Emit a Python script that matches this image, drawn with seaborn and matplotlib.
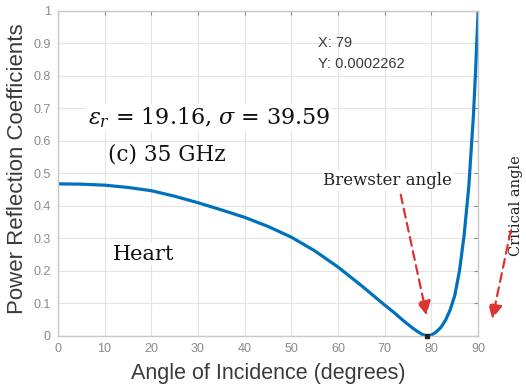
import matplotlib
matplotlib.use("Agg")
import matplotlib.pyplot as plt
import seaborn as sns
import pandas as pd

# Data
angles = [0, 5, 10, 15, 20, 25, 30, 35, 40, 45, 50, 55, 60, 65, 70, 72, 74, 76,
          77, 78, 79, 80, 81, 82, 83, 84, 85, 86, 87, 88, 89, 89.5, 90]
reflection = [0.468, 0.467, 0.464, 0.457, 0.447, 0.430, 0.410, 0.388, 0.365, 0.337,
              0.304, 0.262, 0.212, 0.155, 0.095, 0.072, 0.047, 0.024, 0.014, 0.005,
              0.0002, 0.003, 0.012, 0.026, 0.048, 0.080, 0.125, 0.200, 0.310, 0.460,
              0.680, 0.830, 1.0]
x_ticks = [0, 10, 20, 30, 40, 50, 60, 70, 80, 90]
y_ticks = [0, 0.1, 0.2, 0.3, 0.4, 0.5, 0.6, 0.7, 0.8, 0.9, 1]
y_tick_labels = ["0", "0.1", "0.2", "0.3", "0.4", "0.5", "0.6", "0.7", "0.8", "0.9", "1"]
tip_x = 79
tip_y = 0.0002262

sns.set_theme(style="whitegrid")
plt.rcParams["font.family"] = ["Liberation Sans", "DejaVu Sans"]
plt.rcParams["mathtext.fontset"] = "dejavuserif"

df = pd.DataFrame({"angle": angles, "R": reflection})

fig = plt.figure(figsize=(5.26, 3.90), dpi=100)
ax = fig.add_axes([0.110, 0.1385, 0.799, 0.8335])

sns.lineplot(data=df, x="angle", y="R", ax=ax, color="#0072BD", linewidth=2.3)
ax.plot([tip_x], [tip_y], marker="s", markersize=3.5, color="#222222",
        markeredgecolor="#222222", zorder=5, clip_on=False)

ax.set_xlim(0, 90)
ax.set_ylim(0, 1)
ax.set_xticks(x_ticks)
ax.set_yticks(y_ticks)
ax.set_yticklabels(y_tick_labels)
ax.tick_params(axis="both", which="both", direction="in", length=3, width=0.8,
               colors="#8a8a8a", labelsize=9, top=True, right=True, pad=5,
               labelcolor="#8a8a8a")
ax.grid(True, color="#e4e4e4", linewidth=0.8)
for s in ax.spines.values():
    s.set_color("#c8c8c8")
    s.set_linewidth(1.0)
    s.set_visible(True)

ax.set_xlabel("Angle of Incidence (degrees)", fontsize=15.5, color="#3a3a3a", labelpad=6)
ax.set_ylabel("Power Reflection Coefficients", fontsize=16, color="#3a3a3a")
ax.yaxis.set_label_coords(-0.072, 0.515)

serif = ["DejaVu Serif"]
wbox = dict(facecolor="white", edgecolor="none", pad=1.0)
ax.text(6.4, 0.671, r"$\varepsilon_r$ = 19.16, $\sigma$ = 39.59", fontsize=16,
        family=serif, color="#111111", va="center", ha="left", bbox=wbox)
ax.text(10.8, 0.557, "(c) 35 GHz", fontsize=15.5, family=serif, color="#111111",
        va="center", ha="left", bbox=wbox)
ax.text(11.8, 0.252, "Heart", fontsize=15, family=serif, color="#111111",
        va="center", ha="left", bbox=wbox)
ax.text(56.8, 0.477, "Brewster angle", fontsize=12, family=serif, color="#222222",
        va="center", ha="left", bbox=wbox)
ax.text(98.2, 0.40, "Critical angle", fontsize=10.5, family=serif, color="#222222",
        va="center", ha="center", rotation=90, clip_on=False)

ax.text(55.7, 0.90, "X: %d" % tip_x, fontsize=10.5, color="#3a3a3a", va="center", ha="left")
ax.text(55.7, 0.838, "Y: %s" % tip_y, fontsize=10.5, color="#3a3a3a", va="center", ha="left")

arrow_style = dict(arrowstyle="-|>,head_length=0.7,head_width=0.35", color="#dd3333",
                   linestyle=(0, (4, 2.5)), linewidth=1.6)
ax.annotate("", xy=(79.1, 0.055), xytext=(73.3, 0.443),
            arrowprops=arrow_style, annotation_clip=False)
ax.annotate("", xy=(92.9, 0.044), xytext=(97.1, 0.332),
            arrowprops=arrow_style, annotation_clip=False)

fig.savefig("out.png", dpi=100)
